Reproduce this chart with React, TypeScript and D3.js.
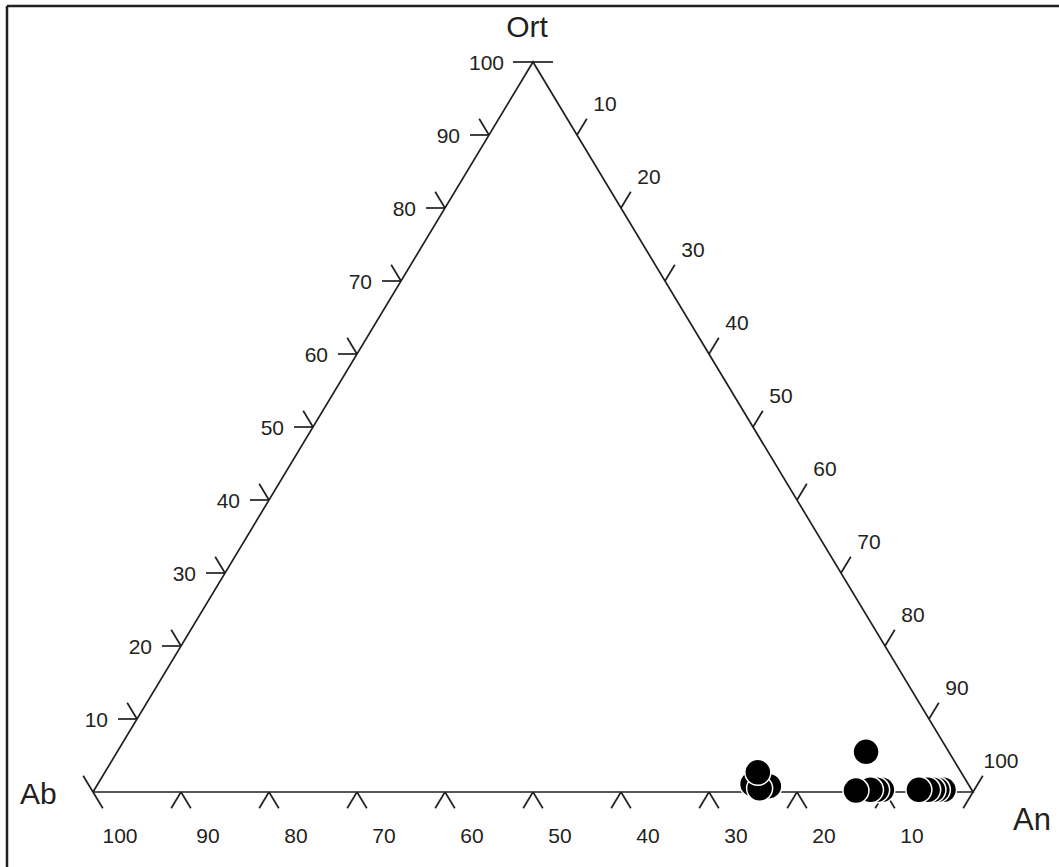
import { useRef, useEffect } from 'react'
import * as d3 from 'd3'

// sample compositions in percent (Ab, An, Ort), drawn in this order
const sampleAb = [22.8, 24.5, 24.0, 23.1, 10.2, 10.8, 11.5, 13.2, 9.4, 3.2, 3.9, 4.4, 5.0, 6.0]
const sampleAn = [76.4, 74.4, 75.5, 74.2, 89.5, 88.9, 88.2, 86.6, 85.1, 96.5, 95.8, 95.3, 94.7, 93.7]
const sampleOrt = [0.8, 1.1, 0.5, 2.7, 0.3, 0.3, 0.3, 0.2, 5.5, 0.3, 0.3, 0.3, 0.3, 0.3]

const abTicks = [100, 90, 80, 70, 60, 50, 40, 30, 20, 10]
const ortTicks = [10, 20, 30, 40, 50, 60, 70, 80, 90, 100]
const anTicks = [10, 20, 30, 40, 50, 60, 70, 80, 90, 100]

const W = 1059
const H = 867
const FONT = "'Liberation Sans', Arial, sans-serif"
const INK = '#231f20'

const App = () => {
  const ref = useRef<SVGSVGElement>(null)

  useEffect(() => {
    if (!ref.current) return
    const svg = d3.select(ref.current)
    svg.selectAll('*').remove()

    // horizontal position from An + Ort/2, vertical from Ort
    const x = d3.scaleLinear().domain([0, 100]).range([93, 973])
    const y = d3.scaleLinear().domain([0, 100]).range([792, 62])
    const pt = (an: number, ort: number): [number, number] => [x(an + ort / 2), y(ort)]

    const A = pt(0, 0)
    const B = pt(100, 0)
    const C = pt(0, 100)
    const len = Math.hypot(C[0] - A[0], C[1] - A[1])
    const uL: [number, number] = [(C[0] - A[0]) / len, (C[1] - A[1]) / len] // along left edge, upward
    const uR: [number, number] = [(C[0] - B[0]) / len, (C[1] - B[1]) / len] // along right edge, upward
    const L = 19

    // frame
    svg.append('line').attr('x1', 7).attr('y1', 6).attr('x2', W).attr('y2', 6)
      .attr('stroke', INK).attr('stroke-width', 2.5)
    svg.append('line').attr('x1', 7).attr('y1', 6).attr('x2', 7).attr('y2', H)
      .attr('stroke', INK).attr('stroke-width', 2.5)

    const g = svg.append('g').attr('stroke', INK).attr('stroke-width', 1.7).attr('fill', 'none')
    g.append('path')
      .attr('d', d3.line()([A, B, C, A]))
      .attr('stroke-linejoin', 'miter')

    const seg = (p: [number, number], d: [number, number], l: number) =>
      g.append('line').attr('x1', p[0]).attr('y1', p[1]).attr('x2', p[0] + d[0] * l).attr('y2', p[1] + d[1] * l)

    // bottom ticks (Ab)
    abTicks.slice(1).forEach(v => {
      const p = pt(100 - v, 0)
      seg(p, [-uL[0], -uL[1]], L)
      seg(p, [-uR[0], -uR[1]], L)
    })
    // left ticks (Ort)
    ortTicks.slice(0, -1).forEach(v => {
      const p = pt(0, v)
      seg(p, [-1, 0], L)
      seg(p, uR, L)
    })
    // right ticks (An)
    anTicks.slice(0, -1).forEach(v => {
      const p = pt(v, 100 - v)
      seg(p, uL, L)
    })
    // vertices
    seg(C, [-1, 0], 20)
    seg(C, [1, 0], 20)
    seg(A, uR, L)
    seg(A, [-uR[0], -uR[1]], L)
    seg(B, uL, L)
    seg(B, [-uL[0], -uL[1]], L)

    const t = svg.append('g').attr('font-family', FONT).attr('fill', INK)
    abTicks.forEach(v => {
      const p = pt(100 - v, 0)
      t.append('text').attr('x', p[0] + 27).attr('y', 843).attr('font-size', 21)
        .attr('text-anchor', 'middle').text(v)
    })
    ortTicks.forEach(v => {
      const p = pt(0, v)
      t.append('text').attr('x', p[0] - 29).attr('y', p[1] + 8).attr('font-size', 21)
        .attr('text-anchor', 'end').text(v)
    })
    anTicks.forEach(v => {
      const p = pt(v, 100 - v)
      t.append('text').attr('x', p[0] + 28).attr('y', p[1] - 24).attr('font-size', 21)
        .attr('text-anchor', 'middle').text(v)
    })
    t.append('text').attr('x', 527).attr('y', 37).attr('font-size', 30)
      .attr('text-anchor', 'middle').text('Ort')
    t.append('text').attr('x', 20).attr('y', 804).attr('font-size', 30).text('Ab')
    t.append('text').attr('x', 1013).attr('y', 830).attr('font-size', 31).text('An')

    // samples
    const samples = sampleAb.map((ab, i) => ({ ab, an: sampleAn[i], ort: sampleOrt[i] }))
    svg.append('g').selectAll('circle')
      .data(samples)
      .enter()
      .append('circle')
      .attr('cx', d => pt(d.an, d.ort)[0])
      .attr('cy', d => pt(d.an, d.ort)[1])
      .attr('r', 13)
      .attr('fill', '#000')
      .attr('stroke', '#fff')
      .attr('stroke-width', 1.5)
  }, [])

  return (
    <svg
      ref={ref}
      width={W}
      height={H}
      style={{ position: 'absolute', left: 0, top: 0, background: '#fff' }}
    />
  )
}

export default App
